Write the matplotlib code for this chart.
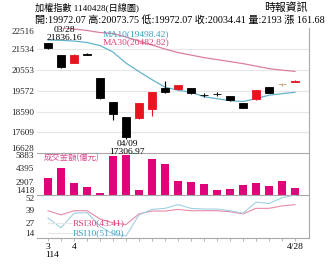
import matplotlib
matplotlib.use("Agg")
import matplotlib.pyplot as plt
from matplotlib.transforms import blended_transform_factory

SERIF = ["Liberation Serif", "Noto Sans CJK TC"]
CJK = ["Noto Sans CJK TC", "DejaVu Sans"]

# ---- daily data (TAIEX, 2025/03/28 - 2025/04/28) ----
dates = ["03/28", "03/31", "04/01", "04/02", "04/07", "04/08", "04/09", "04/10",
         "04/11", "04/14", "04/15", "04/16", "04/17", "04/18", "04/21", "04/22",
         "04/23", "04/24", "04/25", "04/28"]
opens = [21800, 21250, 20890, 21270, 20150, 19047, 18340, 18270, 18735, 19679,
         19632, 19708, 19370, 19420, 19316, 19000, 19174, 19726, 19870, 19972.07]
highs = [21836.16, 21270, 21290, 21330, 20180, 19060, 18360, 19010, 19530, 20030,
         19850, 19720, 19443, 19490, 19330, 19010, 19620, 19740, 19960, 20073.75]
lows = [21530, 20650, 20860, 21240, 19200, 18183, 17306.97, 18240, 18372, 19470,
        19620, 19440, 19255, 19316, 19110, 18770, 19160, 19460, 19810, 19972.07]
closes = [21600, 20694, 21260, 21298, 19232, 18460, 17392, 18990, 19519, 19490,
          19835, 19472, 19385, 19430, 19127, 18783, 19604, 19472, 19872.73, 20034.41]

ma10 = [21959, 21945, 21912, 21841, 21699, 21393, 20873, 20472, 20094, 19741,
        19599, 19505, 19292, 19198, 19104, 19066, 19198, 19363, 19434, 19498.42]
ma30 = [22606, 22540, 22478, 22407, 22313, 22266, 22101, 21912, 21723, 21534,
        21369, 21251, 21133, 21039, 20944, 20850, 20732, 20614, 20543, 20482.82]

turnover = [3282, 4465, 2791, 2344, 1608, 5804, 5883, 1976, 5402, 4878,
            3014, 2902, 2612, 1976, 2088, 2500, 2724, 2456, 2947, 2193]

rsi30 = [38.0, 34.3, 38.0, 38.0, 30.6, 27.2, 25.7, 35.2, 37.7, 37.7,
         39.2, 38.0, 38.0, 38.0, 37.1, 35.2, 40.1, 40.1, 42.3, 43.41]
rsi10 = [31.5, 22.9, 35.8, 36.3, 24.2, 17.1, 15.6, 34.3, 39.2, 40.1,
         43.5, 40.1, 39.5, 39.5, 38.0, 35.8, 45.7, 44.4, 49.5, 51.99]

price_ticks = [16628, 17609, 18590, 19572, 20553, 21534, 22516]
vol_ticks = [1418, 2907, 4395, 5883]
rsi_ticks = [14, 27, 39, 52]
month_labels = {0: "3", 2: "4", 19: "4/28"}
year_label = "114"

high_day, low_day = 0, 6
flat_days_neutral = {18}

# ---- colours ----
UP = "#e8131f"
DOWN = "#000000"
NEUTRAL = "#c9a27a"
MA10_C = "#62b3cc"
MA30_C = "#dc7f9c"
BAR_C = "#e0047a"
GRID_C = "#e6e6e6"
SPINE_C = "#a8a8a8"

fig = plt.figure(figsize=(3.3, 2.65), dpi=100)
W, H = 330.0, 265.0
left, right = 37 / W, 309 / W
y_top, y_pv, y_vr, y_bot = 28.2, 153.3, 195.0, 237.7


def band(y0, y1):
    return [left, 1 - y1 / H, right - left, (y1 - y0) / H]


ax_p = fig.add_axes(band(y_top, y_pv))
ax_v = fig.add_axes(band(y_pv, y_vr), sharex=ax_p)
ax_r = fig.add_axes(band(y_vr, y_bot), sharex=ax_p)

n = len(dates)
x = list(range(n))

for ax in (ax_p, ax_v, ax_r):
    ax.patch.set_alpha(0)
    for s in ("left", "top"):
        ax.spines[s].set_visible(False)
    for s in ("right", "bottom"):
        ax.spines[s].set_color(SPINE_C)
        ax.spines[s].set_linewidth(0.8)
    ax.tick_params(axis="y", length=0, pad=2, labelsize=6.6, colors="#222222")
    ax.tick_params(axis="x", length=0, labelbottom=False)
ax_p.set_zorder(3)

ax_p.set_xlim(-0.85, n + 0.08)

# ---- price panel ----
ax_p.set_ylim(price_ticks[0], price_ticks[-1])
for t in price_ticks[1:-1]:
    ax_p.axhline(t, color=GRID_C, lw=0.8, zorder=0)

body_w = 0.68
for i in x:
    o, h, l, c = opens[i], highs[i], lows[i], closes[i]
    if i in flat_days_neutral:
        col = NEUTRAL
    elif abs(c - o) < 40:
        col = DOWN
    elif c > o:
        col = UP
    else:
        col = DOWN
    ax_p.vlines(i, l, h, color=col, lw=0.8, zorder=2)
    ax_p.bar(i, abs(c - o), bottom=min(o, c), width=body_w, color=col,
             edgecolor=col, lw=0.6, zorder=3)

ax_p.plot(x, ma30, color=MA30_C, lw=0.9, zorder=1, clip_on=True)
ax_p.plot(x, ma10, color=MA10_C, lw=0.9, zorder=1)

ax_p.text(0.243, 0.953, f"MA10({ma10[-1]:.2f})", transform=ax_p.transAxes,
          color="#3a9fc4", fontsize=6.8, family=SERIF, va="center", ha="left")
ax_p.text(0.243, 0.892, f"MA30({ma30[-1]:.2f})", transform=ax_p.transAxes,
          color="#e0407a", fontsize=6.8, family=SERIF, va="center", ha="left")

ax_p.annotate(f"{dates[high_day]}\n{highs[high_day]:.2f}", xy=(high_day, highs[high_day]),
              xytext=(12, 0.5), textcoords="offset points", ha="center", va="bottom",
              fontsize=6.8, family=SERIF, linespacing=0.95, annotation_clip=False)
ax_p.annotate(f"{dates[low_day]}\n{lows[low_day]:.2f}", xy=(low_day, lows[low_day]),
              xytext=(0.7, -0.8), textcoords="offset points", ha="center", va="top",
              fontsize=6.8, family=SERIF, linespacing=0.95, annotation_clip=False)

ax_p.set_yticks(price_ticks)
ax_p.set_yticklabels([str(t) for t in price_ticks], family=SERIF)

# ---- turnover panel ----
ax_v.set_ylim(vol_ticks[0], vol_ticks[-1] + 1.7 * (vol_ticks[-1] - vol_ticks[0]) / 40)
ax_v.bar(x, [v - vol_ticks[0] for v in turnover], bottom=vol_ticks[0], width=0.66,
         color=BAR_C, zorder=2)
ax_v.set_yticks(vol_ticks)
ax_v.set_yticklabels([str(t) for t in vol_ticks], family=SERIF)
ax_v.text(0.024, 0.905, "成交金額(億元)", transform=ax_v.transAxes, color="#d9468c",
          fontsize=6.0, family=CJK, va="center", ha="left")

# ---- RSI panel ----
ax_r.set_ylim(rsi_ticks[0], rsi_ticks[-1])
ax_r.plot(x, rsi30, color="#e88aa8", lw=0.8)
ax_r.plot(x, rsi10, color="#9fd0e2", lw=0.8)
ax_r.set_yticks(rsi_ticks)
ax_r.set_yticklabels([str(t) for t in rsi_ticks], family=SERIF)

ax_r.plot([0.04, 0.128], [0.337, 0.337], transform=ax_r.transAxes, color="#e6e6e6", lw=0.8)
ax_r.plot([0.04, 0.128], [0.103, 0.103], transform=ax_r.transAxes, color="#e6e6e6", lw=0.8)
ax_r.text(0.131, 0.337, f"RSI30({rsi30[-1]:.2f})", transform=ax_r.transAxes,
          color="#d8407a", fontsize=6.8, family=SERIF, va="center", ha="left")
ax_r.text(0.131, 0.103, f"RSI10({rsi10[-1]:.2f})", transform=ax_r.transAxes,
          color="#3a9fc4", fontsize=6.8, family=SERIF, va="center", ha="left")

ax_r.set_xticks(x)
ax_r.set_xticklabels([month_labels.get(i, "") for i in x], family=SERIF)
ax_r.tick_params(axis="x", length=2, width=0.6, color=SPINE_C, labelbottom=True,
                 labelsize=6.8, pad=1.5)
ax_r.annotate(year_label, xy=(0, 0), xycoords=blended_transform_factory(ax_r.transData, ax_r.transAxes),
              xytext=(-1.8, -9.5), textcoords="offset points", ha="left", va="top",
              fontsize=6.8, family=SERIF, annotation_clip=False)

# edge tick labels sit inside their panels
for ax in (ax_p, ax_v, ax_r):
    labs = ax.get_yticklabels()
    labs[0].set_va("bottom")
for ax in (ax_p, ax_r):
    ax.get_yticklabels()[-1].set_va("top")

# ---- header ----
fig.text(35 / W, 1 - 7.5 / H, "加權指數 1140428(日線圖)", family=SERIF, fontsize=6.6,
         va="center", ha="left")
fig.text(308 / W, 1 - 7.5 / H, "時報資訊", family=SERIF, fontsize=7.8,
         va="center", ha="right")
fig.text(35 / W, 1 - 20.5 / H,
         f"開:{opens[-1]:.2f} 高:{highs[-1]:.2f} 低:{lows[-1]:.2f} 收:{closes[-1]:.2f} "
         f"量:{turnover[-1]} 漲 {closes[-1] - closes[-2]:.2f}",
         family=SERIF, fontsize=7.25, va="center", ha="left")

fig.savefig("out.png", dpi=100)
